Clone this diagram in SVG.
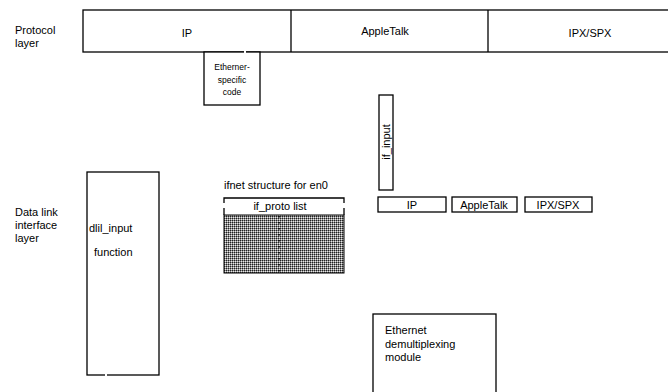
<svg xmlns="http://www.w3.org/2000/svg" width="668" height="392" viewBox="0 0 668 392">
<defs>
<style>
.t{font-family:"Liberation Sans",Arial,sans-serif;font-size:11px;fill:#000}
.s{font-family:"Liberation Sans",Arial,sans-serif;font-size:8.5px;fill:#000}
.b{fill:#fff;stroke:#000;stroke-width:1.3}
.gap{fill:#fff}
</style>
<pattern id="dots" width="2" height="2" patternUnits="userSpaceOnUse">
<rect width="2" height="2" fill="#8a8a8a"/>
<rect width="1" height="1" fill="#222"/>
<rect x="1" y="1" width="1" height="1" fill="#e8e8e8"/>
</pattern>
</defs>
<rect width="668" height="392" fill="#fff"/>
<text class="t" x="15" y="34">Protocol</text>
<text class="t" x="15" y="47">layer</text>
<text class="t" x="15" y="216">Data link</text>
<text class="t" x="15" y="229">interface</text>
<text class="t" x="15" y="242">layer</text>
<g id="protocol-bar">
<rect class="b" x="83" y="10" width="590" height="42"/>
<line x1="291" y1="10" x2="291" y2="52" stroke="#000" stroke-width="1.3"/>
<line x1="488" y1="10" x2="488" y2="52" stroke="#000" stroke-width="1.3"/>
<text class="t" x="187" y="37" text-anchor="middle">IP</text>
<text class="t" x="385" y="35" text-anchor="middle">AppleTalk</text>
<text class="t" x="590" y="37" text-anchor="middle">IPX/SPX</text>
</g>
<g id="ether-specific">
<rect class="b" x="204" y="52" width="56" height="53"/>
<rect class="gap" x="244" y="51" width="2" height="2"/>
<text class="s" x="232" y="70" text-anchor="middle">Etherner-</text>
<text class="s" x="232" y="83" text-anchor="middle">specific</text>
<text class="s" x="232" y="95" text-anchor="middle">code</text>
</g>
<g id="if-input">
<rect class="b" x="379" y="95" width="14" height="95"/>
<text class="t" transform="translate(390,142) rotate(-90)" text-anchor="middle">if_input</text>
</g>
<g id="small-ip"><rect class="b" x="378" y="197" width="68" height="15"/><text class="t" x="412" y="209" text-anchor="middle">IP</text></g>
<g id="small-appletalk"><rect class="b" x="452" y="197" width="65" height="15"/><text class="t" x="484" y="209" text-anchor="middle">AppleTalk</text></g>
<g id="small-ipxspx"><rect class="b" x="525" y="197" width="67" height="15"/><text class="t" x="558" y="209" text-anchor="middle">IPX/SPX</text></g>
<g id="dlil-input">
<rect class="b" x="87" y="172" width="72" height="203"/>
<rect class="gap" x="105" y="374" width="2" height="2"/>
<text class="t" x="89" y="232">dlil_input</text>
<text class="t" x="94" y="256">function</text>
</g>
<g id="ifnet">
<text class="t" x="224" y="189">ifnet structure for en0</text>
<rect x="224" y="215" width="120" height="58" fill="url(#dots)" stroke="#000" stroke-width="1"/>
<path d="M224,203 V198 H344 V203 M224,208 V215 M344,208 V215" fill="none" stroke="#000" stroke-width="1.3"/>
<text class="t" x="280" y="210" text-anchor="middle">if_proto list</text>
<line x1="279" y1="216" x2="279" y2="272" stroke="#000" stroke-width="1.5" stroke-dasharray="1.5,4.5"/>
</g>
<g id="ether-demux">
<rect class="b" x="373" y="314" width="123" height="90"/>
<text class="t" x="385" y="334">Ethernet</text>
<text class="t" x="385" y="348">demultiplexing</text>
<text class="t" x="385" y="361">module</text>
</g>
<g id="connectors"></g>
</svg>
